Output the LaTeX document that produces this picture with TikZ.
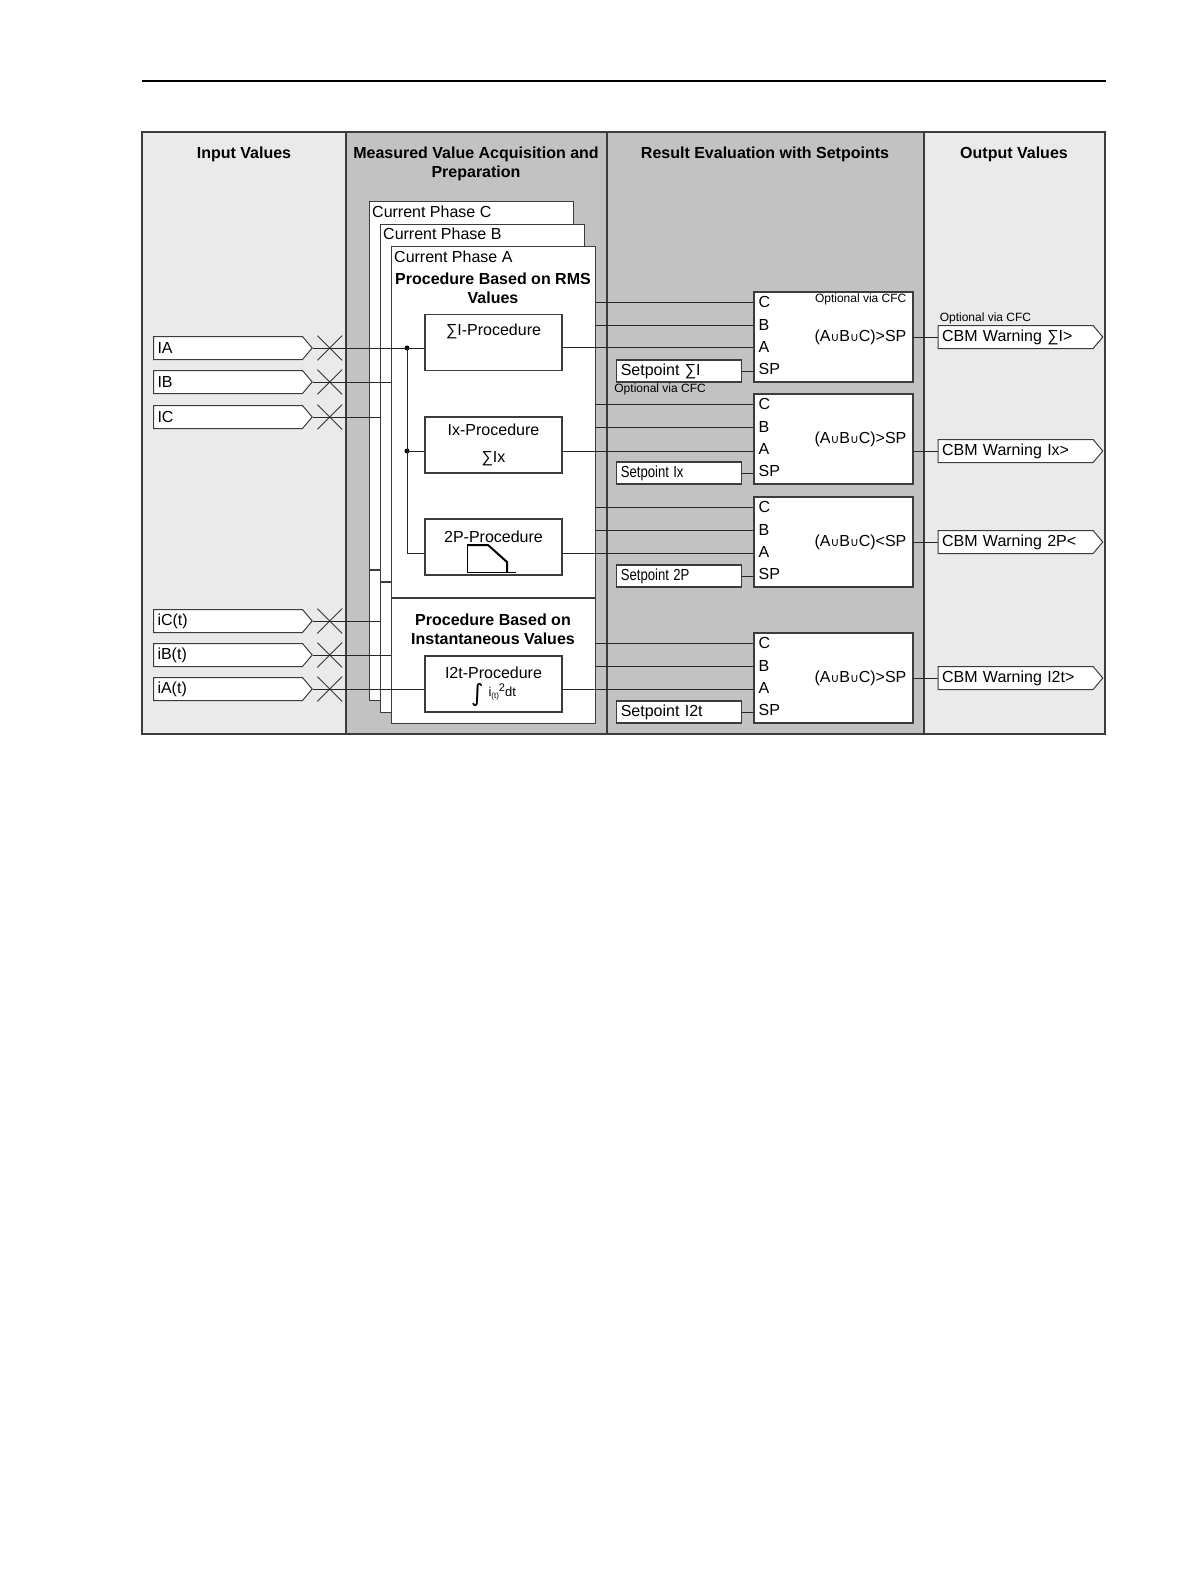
\documentclass[tikz,border=0pt]{standalone}
\usepackage{fontspec}
\setmainfont{Liberation Sans}
\newfontfamily\symfont{DejaVu Sans}
\usepackage{graphicx}
\usetikzlibrary{positioning, calc, shapes.symbols, shapes.misc}
\definecolor{framegray}{RGB}{60, 60, 60}
\definecolor{lightcol}{RGB}{234, 234, 234}
\definecolor{darkcol}{RGB}{194, 194, 194}
\newcommand{\cupsym}{{\symfont\fontsize{12}{12}\selectfont ∪}}
\newcommand{\formulatext}{\smash{\raisebox{-5pt}{\symfont\fontsize{24}{24}\selectfont ∫}}\hspace{5pt}{\fontsize{13}{13}\selectfont i\raisebox{-2pt}{\fontsize{8}{8}\selectfont (t)}\raisebox{5pt}{\fontsize{11}{11}\selectfont 2}dt}}

\begin{document}
\begin{tikzpicture}[
    x=1pt, y=-1pt,
    font=\fontsize{16}{19}\selectfont,
    header/.style={font=\fontsize{16}{19}\selectfont\bfseries, align=center, inner sep=0pt},
    phasebox/.style={
      draw=framegray, line width=1.2pt, fill=white,
      minimum width=204pt, anchor=north west, inner sep=0pt
    },
    procbox/.style={
      draw=framegray, line width=1.2pt, fill=white, minimum width=137pt,
      minimum height=56pt, align=center, inner sep=0pt
    },
    evalbox/.style={
      draw=framegray, line width=1.2pt, fill=white, minimum width=159pt,
      minimum height=90pt, inner sep=0pt
    },
    setbox/.style={
      draw=framegray, line width=1.2pt, fill=white, minimum width=125pt,
      minimum height=22pt, inner sep=0pt, text width=117pt, align=left,
      anchor=south east
    },
    intag/.style={
      signal, signal to=east, signal pointer angle=100, draw=framegray,
      line width=1pt, fill=white, minimum height=23pt, text width=141pt,
      inner xsep=4pt, inner ysep=0pt, align=left, anchor=west
    },
    outtag/.style={intag, text width=147pt},
    port/.style={anchor=west, inner sep=0pt},
    cfc/.style={font=\fontsize{12}{14}\selectfont, inner sep=0pt},
    wire/.style={line width=1pt, black!85},
    jump/.style={draw=black!80, cross out, minimum size=24pt, line width=0.8pt, inner sep=0pt},
    dot/.style={circle, fill=black, inner sep=0pt, minimum size=5pt},
]
    \useasboundingbox (0,0) rectangle (1191,1587);

    % Page rule and column backgrounds
    \draw[line width=1.5pt] (142,81) -- (1106,81);
    \fill[lightcol] (142,132) rectangle (346,734);
    \fill[darkcol] (346,132) rectangle (924,734);
    \fill[lightcol] (924,132) rectangle (1105,734);
    \draw[framegray, line width=1.2pt] (142,132) rectangle (1105,734);
    \draw[framegray, line width=1.2pt] (346,132) -- (346,734);
    \draw[framegray, line width=1.2pt] (607,132) -- (607,734);
    \draw[framegray, line width=1.2pt] (924,132) -- (924,734);

    % Column headers
    \node[header] (hin) at (244,154) {Input Values};
    \node[header] (hmv) at (476,164) {Measured Value Acquisition and\\Preparation};
    \node[header] (hre) at (765,154) {Result Evaluation with Setpoints};
    \node[header] (hout) at (1014,154) {Output Values};

    % Input values
    \node[intag] (inIA) at (153,348) {IA};
    \node[intag] (inIB) at (153,382) {IB};
    \node[intag] (inIC) at (153,417) {IC};
    \node[intag] (iniC) at (153,621) {iC(t)};
    \node[intag] (iniB) at (153,655) {iB(t)};
    \node[intag] (iniA) at (153,689) {iA(t)};
    \foreach \t in {inIA,inIB,inIC,iniC,iniB,iniA}
      \node[jump] (x\t) at ($(\t.east)+(17,0)$) {};

    % Current phase C (back)
    \node[phasebox, minimum height=499pt] (phC) at (369,201) {};
    \draw[framegray, line width=1.2pt] (phC.west |- 0,570) -- (phC.east |- 0,570);
    \node[port] (lphC) at ($(phC.north west)+(3,11)$) {Current Phase C};

    % Current phase B
    \node[phasebox, minimum height=488pt] (phB) at (380,224) {};
    \draw[framegray, line width=1.2pt] (phB.west |- 0,582) -- (phB.east |- 0,582);
    \node[port] (lphB) at ($(phB.north west)+(3,10)$) {Current Phase B};
    \draw[wire] (inIC.east) -- (inIC.east -| phB.west);
    \draw[wire] (iniC.east) -- (iniC.east -| phB.west);

    % Current phase A (front)
    \node[phasebox, minimum height=477pt] (phA) at (391,246) {};
    \draw[framegray, line width=1.2pt] (phA.west |- 0,598) -- (phA.east |- 0,598);
    \node[port] (lphA) at ($(phA.north west)+(3,11)$) {Current Phase A};
    \draw[wire] (inIB.east) -- (inIB.east -| phA.west);
    \draw[wire] (iniB.east) -- (iniB.east -| phA.west);
    \node[header] (hrms) at (493,288.5) {Procedure Based on RMS\\Values};
    \node[header] (hinst) at (493,629.5) {Procedure Based on\\Instantaneous Values};

    % Procedures
    \node[procbox] (sumI) at (493.5,342.5) {∑I-Procedure\\\strut};
    \node[procbox] (ixP) at (493.5,445) {Ix-Procedure\\[8pt]∑Ix};
    \node[procbox] (twoP) at (493.5,547) {2P-Procedure\\\rule{0pt}{19pt}};
    \node[procbox] (itP) at (493.5,684) {I2t-Procedure\\[-1pt]\formulatext};
    \begin{scope}[shift={(twoP.center)}]
      \draw[line width=1pt] (-26.5,-2) -- (-26.5,25) -- (22.5,25);
      \draw[line width=2pt, line join=miter] (-26.5,-2) -- (-5.5,-2) -- (13.5,15) -- (13.5,25);
    \end{scope}

    % Phase A wiring
    \node[dot] (jA) at (407,348) {};
    \node[dot] (jB) at (407,451) {};
    \draw[wire] (inIA.east) -- (inIA.east -| sumI.west);
    \draw[wire] (jA.center) |- ([yshift=-6pt]twoP.west);
    \draw[wire] (jB.center) -- (jB.center -| ixP.west);
    \draw[wire] (iniA.east) -- (iniA.east -| itP.west);

    % Evaluation with setpoints
    \node[evalbox] (ev1) at (833.5,337) {};
    \node[evalbox] (ev2) at (833.5,439) {};
    \node[evalbox] (ev3) at (833.5,542) {};
    \node[evalbox] (ev4) at (833.5,678) {};
    \foreach \ev in {ev1,ev2,ev3,ev4} {
      \foreach \p/\dy in {C/11,B/34,A/56,SP/78} {
        \coordinate (\ev\p) at ($(\ev.north west)+(0,\dy)$);
        \node[port] at ($(\ev\p)+(5,0)$) {\p};
      }
      \draw[wire] (phA.east |- \ev C) -- (\ev C);
      \draw[wire] (phA.east |- \ev B) -- (\ev B);
    }
    \node[anchor=east, inner sep=0pt] at ($(ev1.east)+(-7,0)$) {(A\cupsym B\cupsym C)>SP};
    \node[anchor=east, inner sep=0pt] at ($(ev2.east)+(-7,0)$) {(A\cupsym B\cupsym C)>SP};
    \node[anchor=east, inner sep=0pt] at ($(ev3.east)+(-7,0)$) {(A\cupsym B\cupsym C)<SP};
    \node[anchor=east, inner sep=0pt] at ($(ev4.east)+(-7,0)$) {(A\cupsym B\cupsym C)>SP};
    \node[cfc, anchor=east] at ($(ev1.north east)+(-7,8)$) {Optional via CFC};

    \draw[wire] (sumI.east |- ev1A) -- (ev1A);
    \draw[wire] ([yshift=-6pt]ixP.east) -- ([yshift=-6pt]ixP.east -| ev2.west);
    \draw[wire] ([yshift=-6pt]twoP.east) -- ([yshift=-6pt]twoP.east -| ev3.west);
    \draw[wire] (itP.east |- iniA.east) -- (iniA.east -| ev4.west);

    % Setpoints
    \node[setbox] (sp1) at ($(ev1.south west)+(-11,0)$) {Setpoint ∑I};
    \node[setbox] (sp2) at ($(ev2.south west)+(-11,0)$) {\scalebox{0.82}[1]{Setpoint Ix}};
    \node[setbox] (sp3) at ($(ev3.south west)+(-11,0)$) {\scalebox{0.82}[1]{Setpoint 2P}};
    \node[setbox] (sp4) at ($(ev4.south west)+(-11,0)$) {Setpoint I2t};
    \foreach \s/\ev in {sp1/ev1,sp2/ev2,sp3/ev3,sp4/ev4}
      \draw[wire] (\s.east) -- (\s.east -| \ev.west);
    \node[cfc, anchor=west] at ($(sp1.south west)+(-2,7)$) {Optional via CFC};

    % Output values
    \node[outtag] (out1) at ($(ev1.east)+(24,0)$) {CBM Warning ∑I>};
    \node[outtag] (out2) at ($(ev2.east)+(24,12)$) {CBM Warning Ix>};
    \node[outtag] (out3) at ($(ev3.east)+(24,0)$) {CBM Warning 2P<};
    \node[outtag] (out4) at ($(ev4.east)+(24,0)$) {CBM Warning I2t>};
    \foreach \o/\ev in {out1/ev1,out2/ev2,out3/ev3,out4/ev4}
      \draw[wire] (\ev.east |- \o.west) -- (\o.west);
    \node[cfc, anchor=west] at ($(out1.north west)+(2,-7)$) {Optional via CFC};
\end{tikzpicture}
\end{document}
